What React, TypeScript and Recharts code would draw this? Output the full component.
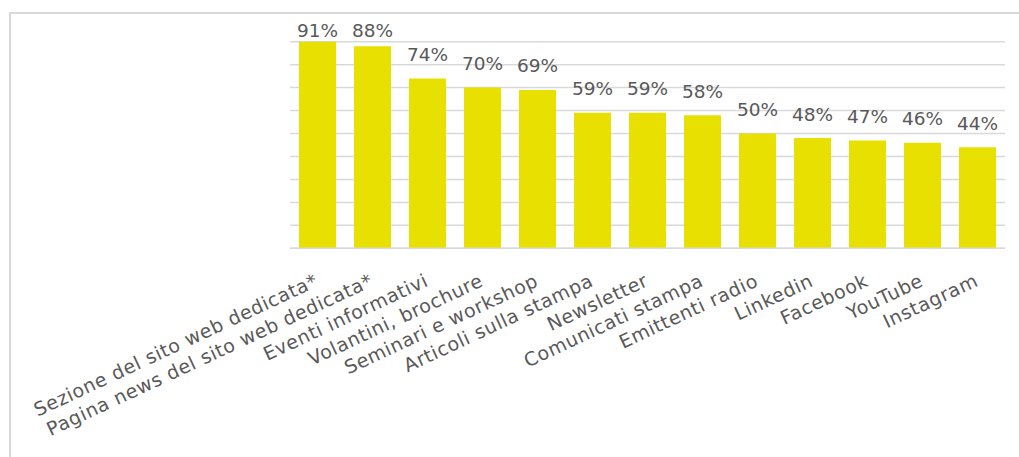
import { BarChart, Bar, XAxis, YAxis, CartesianGrid, LabelList } from 'recharts';

const CHANNELS = [
  'Sezione del sito web dedicata*',
  'Pagina news del sito web dedicata*',
  'Eventi informativi',
  'Volantini, brochure',
  'Seminari e workshop',
  'Articoli sulla stampa',
  'Newsletter',
  'Comunicati stampa',
  'Emittenti radio',
  'Linkedin',
  'Facebook',
  'YouTube',
  'Instagram',
];

const SHARES = [91, 88, 74, 70, 69, 59, 59, 58, 50, 48, 47, 46, 44];

const Y_TICKS = [0, 10, 20, 30, 40, 50, 60, 70, 80, 90];

const data = CHANNELS.map((name, i) => ({ name, value: SHARES[i] }));

const FONT = '"DejaVu Sans", sans-serif';
const TEXT_GREY = '#595959';
const GRID_GREY = '#d9d9d9';
const BAR_YELLOW = '#E8E000';

// category names are slanted up to the right, ending under each bar
function SlantedTick(props: any) {
  const { x, y, payload } = props;
  const ax = x + 2;
  const ay = y + 35;
  return (
    <text
      x={ax}
      y={ay}
      textAnchor="end"
      transform={`rotate(-25, ${ax}, ${ay})`}
      fontFamily={FONT}
      fontSize={19}
      letterSpacing={0.6}
      fill={TEXT_GREY}
    >
      {payload.value}
    </text>
  );
}

// value labels sit above the bar, but never leave the top of the plot
function ValueLabel(props: any) {
  const { x, y, width, value } = props;
  const cy = Math.max(y - 24, 30.5);
  return (
    <text
      x={x + width / 2}
      y={cy}
      textAnchor="middle"
      dominantBaseline="central"
      fontFamily={FONT}
      fontSize={18.5}
      fill={TEXT_GREY}
    >
      {`${value}%`}
    </text>
  );
}

export default function App() {
  return (
    <div style={{ position: 'fixed', left: 0, top: 0, width: 1019, height: 457, background: '#fff', overflow: 'hidden' }}>
      <div
        style={{
          position: 'absolute',
          left: 9,
          top: 12,
          right: 0,
          bottom: 0,
          borderTop: `2px solid ${GRID_GREY}`,
          borderLeft: `2px solid ${GRID_GREY}`,
        }}
      />
      <div style={{ position: 'absolute', left: 0, top: 0 }}>
        <BarChart
          width={1019}
          height={457}
          data={data}
          margin={{ top: 41.7, right: 14, bottom: 0, left: 290 }}
          barSize={37}
        >
          <CartesianGrid vertical={false} stroke={GRID_GREY} strokeWidth={1.5} horizontalValues={Y_TICKS} />
          <XAxis
            dataKey="name"
            interval={0}
            height={208.7}
            tickLine={false}
            tickSize={0}
            axisLine={{ stroke: GRID_GREY, strokeWidth: 1.5 }}
            tick={<SlantedTick />}
          />
          <YAxis hide width={0} domain={[0, 90]} ticks={Y_TICKS} interval={0} allowDataOverflow />
          <Bar dataKey="value" fill={BAR_YELLOW} isAnimationActive={false}>
            <LabelList dataKey="value" content={<ValueLabel />} />
          </Bar>
        </BarChart>
      </div>
    </div>
  );
}
